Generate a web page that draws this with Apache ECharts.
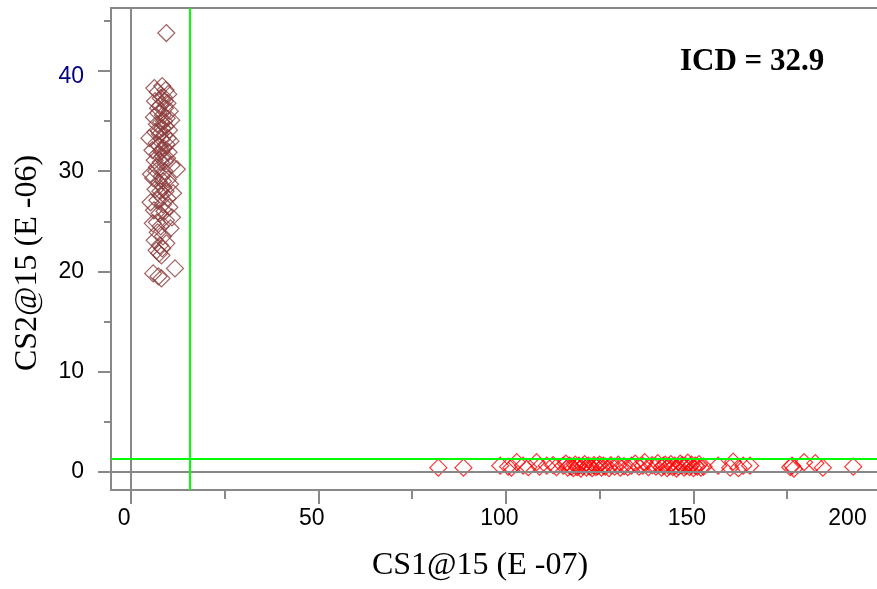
<!DOCTYPE html>
<html><head><meta charset="utf-8">
<script src="https://cdn.jsdelivr.net/npm/echarts@6/dist/echarts.min.js"></script>
<style>html,body{margin:0;padding:0;background:#fff}#c{width:877px;height:589px}</style>
</head><body><div id="c"></div>
<script>
// ---- data ----
const xRange = [-5.25, 200];
const yRange = [-1.83, 46.3];
const xMajorTicks = [0, 50, 100, 150, 200];
const xMinorTicks = [25, 75, 125, 175];
const yMajorTicks = [0, 10, 20, 30, 40];
const yMinorTicks = [5, 15, 25, 35, 45];
const thresholdX = 15.7;
const thresholdY = 1.25;
const titleText = 'ICD = 32.9';
const xName = 'CS1@15 (E -07)';
const yName = 'CS2@15 (E -06)';

const population1 = [
  [9.5,43.8],
  [6.3,38.3],[8.4,38.5],[9.3,38.1],[7.2,37.9],[10.0,37.7],[8.8,37.4],[6.5,37.0],[9.8,36.8],[7.9,36.6],
  [9.1,36.3],[10.4,36.0],[7.4,35.8],[8.6,35.6],[6.2,35.4],[9.6,35.3],[10.8,35.1],[8.1,34.9],[7.0,34.7],
  [9.3,34.5],[8.5,34.3],[10.2,34.1],[6.6,33.9],[7.8,33.7],[9.0,33.6],[5.0,33.3],[8.3,33.2],[10.6,33.0],
  [6.9,32.8],[9.5,32.7],[7.6,32.5],[8.8,32.3],[5.8,32.1],[10.1,31.9],[7.2,31.7],[8.5,31.5],[9.7,31.3],
  [6.4,31.1],[8.0,30.9],[10.9,30.6],[7.0,30.4],[12.3,30.2],[9.0,30.0],[5.4,29.7],[8.3,29.5],[6.0,29.3],
  [9.9,29.2],[7.5,28.9],[10.5,28.7],[8.7,28.4],[6.6,28.2],[9.3,28.0],[11.3,27.8],[8.0,27.6],[9.8,27.3],
  [7.1,27.1],[5.3,26.9],[8.6,26.7],[10.3,26.4],[6.2,26.1],[7.7,25.8],[11.0,25.4],[9.4,25.1],[5.9,24.8],
  [10.6,24.3],[7.2,23.9],[8.6,23.5],[6.4,23.1],[9.5,22.8],[7.8,22.6],[8.4,22.3],[6.9,22.1],[7.6,21.8],
  [8.2,21.6],[11.8,20.3],[6.0,19.8],[7.4,19.5],[8.2,19.3],
  [7.5,34.0],[8.9,35.0],[9.9,33.3],[7.3,36.3],[8.2,32.0],[9.2,31.0],[6.8,30.0],[8.6,29.0],[7.9,28.0],
  [9.0,26.0],[8.0,24.5],[7.0,24.9],[9.1,37.0],[8.0,37.3]
];

const population2 = [
  [82.0,0.4],[88.7,0.4],[98.5,0.6],[100.6,0.5],[101.5,0.4],[102.9,0.95],[104.6,0.6],[106.0,0.45],
  [108.2,0.95],[109.0,0.5],[110.9,0.6],[112.6,0.65],[113.5,0.45],[115.3,0.6],[116.0,0.8],[116.5,0.4],
  [117.0,0.6],[117.5,0.5],[118.0,0.35],[118.5,0.7],[119.0,0.45],[119.5,0.6],[120.0,0.3],[120.5,0.55],
  [121.0,0.75],[121.5,0.4],[122.0,0.6],[122.5,0.5],[123.0,0.35],[123.5,0.65],[124.0,0.45],[124.5,0.55],
  [125.0,0.7],[125.5,0.4],[126.0,0.6],[126.5,0.5],[127.5,0.35],[128.0,0.65],[129.0,0.5],[130.0,0.7],
  [130.5,0.4],[131.5,0.55],[132.5,0.45],[133.5,0.6],[134.5,0.8],[135.5,0.5],[136.5,0.6],[137.0,0.95],
  [138.0,0.45],[139.0,0.65],[140.0,0.5],[140.5,0.85],[141.5,0.4],[142.0,0.6],[142.5,0.7],[143.0,0.35],
  [143.5,0.55],[144.0,0.75],[144.5,0.45],[145.0,0.6],[145.5,0.3],[146.0,0.5],[146.5,0.8],[147.0,0.65],
  [147.5,0.4],[148.0,0.55],[148.5,0.9],[149.0,0.45],[149.5,0.7],[150.0,0.35],[150.5,0.6],[151.0,0.5],
  [151.5,0.75],[152.0,0.4],[152.7,0.5],[156.6,0.6],[159.8,0.4],[160.6,1.0],[163.3,0.6],[165.1,0.6],
  [162.0,0.35],[175.8,0.45],[176.3,0.6],[176.8,0.3],[179.5,0.95],[182.5,0.85],[184.5,0.4],[192.6,0.5]
];

// ---- chart ----
const gray = '#888888';
const chart = echarts.init(document.getElementById('c'), null, {renderer: 'canvas'});
chart.setOption({
  animation: false,
  backgroundColor: '#ffffff',
  title: {
    text: titleText, left: 675, top: 41,
    textStyle: {fontFamily: 'Liberation Serif', fontWeight: 'bold', fontSize: 31, color: '#000'}
  },
  grid: {
    left: 111, top: 8, right: -4, bottom: 99,
    show: true, borderColor: gray, borderWidth: 2, backgroundColor: 'transparent',
    containLabel: false, outerBoundsMode: 'none'
  },
  xAxis: [{
    type: 'value', min: xRange[0], max: xRange[1], position: 'bottom',
    axisLine: {show: true, onZero: false, lineStyle: {color: gray, width: 2}},
    axisTick: {show: true, customValues: xMajorTicks, length: 14, lineStyle: {color: gray, width: 2}},
    axisLabel: {
      customValues: xMajorTicks, margin: 17, padding: [0, 13, 0, 0],
      fontFamily: 'Liberation Sans', fontSize: 23, color: '#000',
      showMaxLabel: true,
      formatter: v => v === xMajorTicks[xMajorTicks.length - 1] ? '{e|' + v + '}' : String(v),
      rich: {e: {fontFamily: 'Liberation Sans', fontSize: 23, color: '#000', padding: [0, 54, 0, 0]}}
    },
    splitLine: {show: false},
    name: xName, nameLocation: 'middle', nameGap: 60,
    nameTextStyle: {fontFamily: 'Liberation Serif', fontSize: 32, color: '#000', padding: [0, 32, 0, 0]}
  }, {
    type: 'value', min: xRange[0], max: xRange[1], position: 'top', offset: -482,
    axisLine: {show: false, onZero: false},
    axisTick: {show: true, inside: true, customValues: xMinorTicks, length: 9, lineStyle: {color: gray, width: 2}},
    axisLabel: {show: false},
    splitLine: {show: false}
  }],
  yAxis: [{
    type: 'value', min: yRange[0], max: yRange[1], position: 'left',
    axisLine: {show: true, onZero: false, lineStyle: {color: gray, width: 2}},
    axisTick: {show: true, customValues: yMajorTicks, length: 13, lineStyle: {color: gray, width: 2}},
    axisLabel: {
      customValues: yMajorTicks, margin: 27,
      fontFamily: 'Liberation Sans', fontSize: 23, color: '#000',
      formatter: v => v === 40 ? '{n|' + v + '}' : String(v),
      rich: {n: {fontFamily: 'Liberation Sans', fontSize: 23, color: '#000080', padding: [12, 0, 0, 0]}}
    },
    splitLine: {show: false},
    name: yName, nameLocation: 'middle', nameGap: 67,
    nameTextStyle: {fontFamily: 'Liberation Serif', fontSize: 32, color: '#000', padding: [0, 28, 0, 0]}
  }, {
    type: 'value', min: yRange[0], max: yRange[1], position: 'right', offset: -770,
    axisLine: {show: false, onZero: false},
    axisTick: {show: true, inside: true, customValues: yMinorTicks, length: 7, lineStyle: {color: gray, width: 2}},
    axisLabel: {show: false},
    splitLine: {show: false}
  }],
  series: [{
    type: 'line', data: [], xAxisIndex: 0, yAxisIndex: 0, silent: true,
    markLine: {
      silent: true, symbol: 'none', animation: false, label: {show: false},
      data: [
        {xAxis: 0, lineStyle: {color: gray, width: 2, type: 'solid'}},
        {yAxis: 0, lineStyle: {color: gray, width: 2, type: 'solid'}},
        {xAxis: thresholdX, lineStyle: {color: '#00ff00', width: 2, type: 'solid'}},
        {yAxis: thresholdY, lineStyle: {color: '#00ff00', width: 2, type: 'solid'}}
      ],
      emphasis: {disabled: true}
    }
  }, {
    type: 'scatter', data: population1, xAxisIndex: 0, yAxisIndex: 0,
    symbol: 'diamond', symbolSize: 17,
    itemStyle: {color: 'transparent', borderColor: '#8b3a3a', borderWidth: 1.2},
    emphasis: {disabled: true}
  }, {
    type: 'scatter', data: population2, xAxisIndex: 0, yAxisIndex: 0,
    symbol: 'diamond', symbolSize: 17,
    itemStyle: {color: 'transparent', borderColor: '#ff0000', borderWidth: 1.2},
    emphasis: {disabled: true}
  }]
});
</script>
</body></html>
